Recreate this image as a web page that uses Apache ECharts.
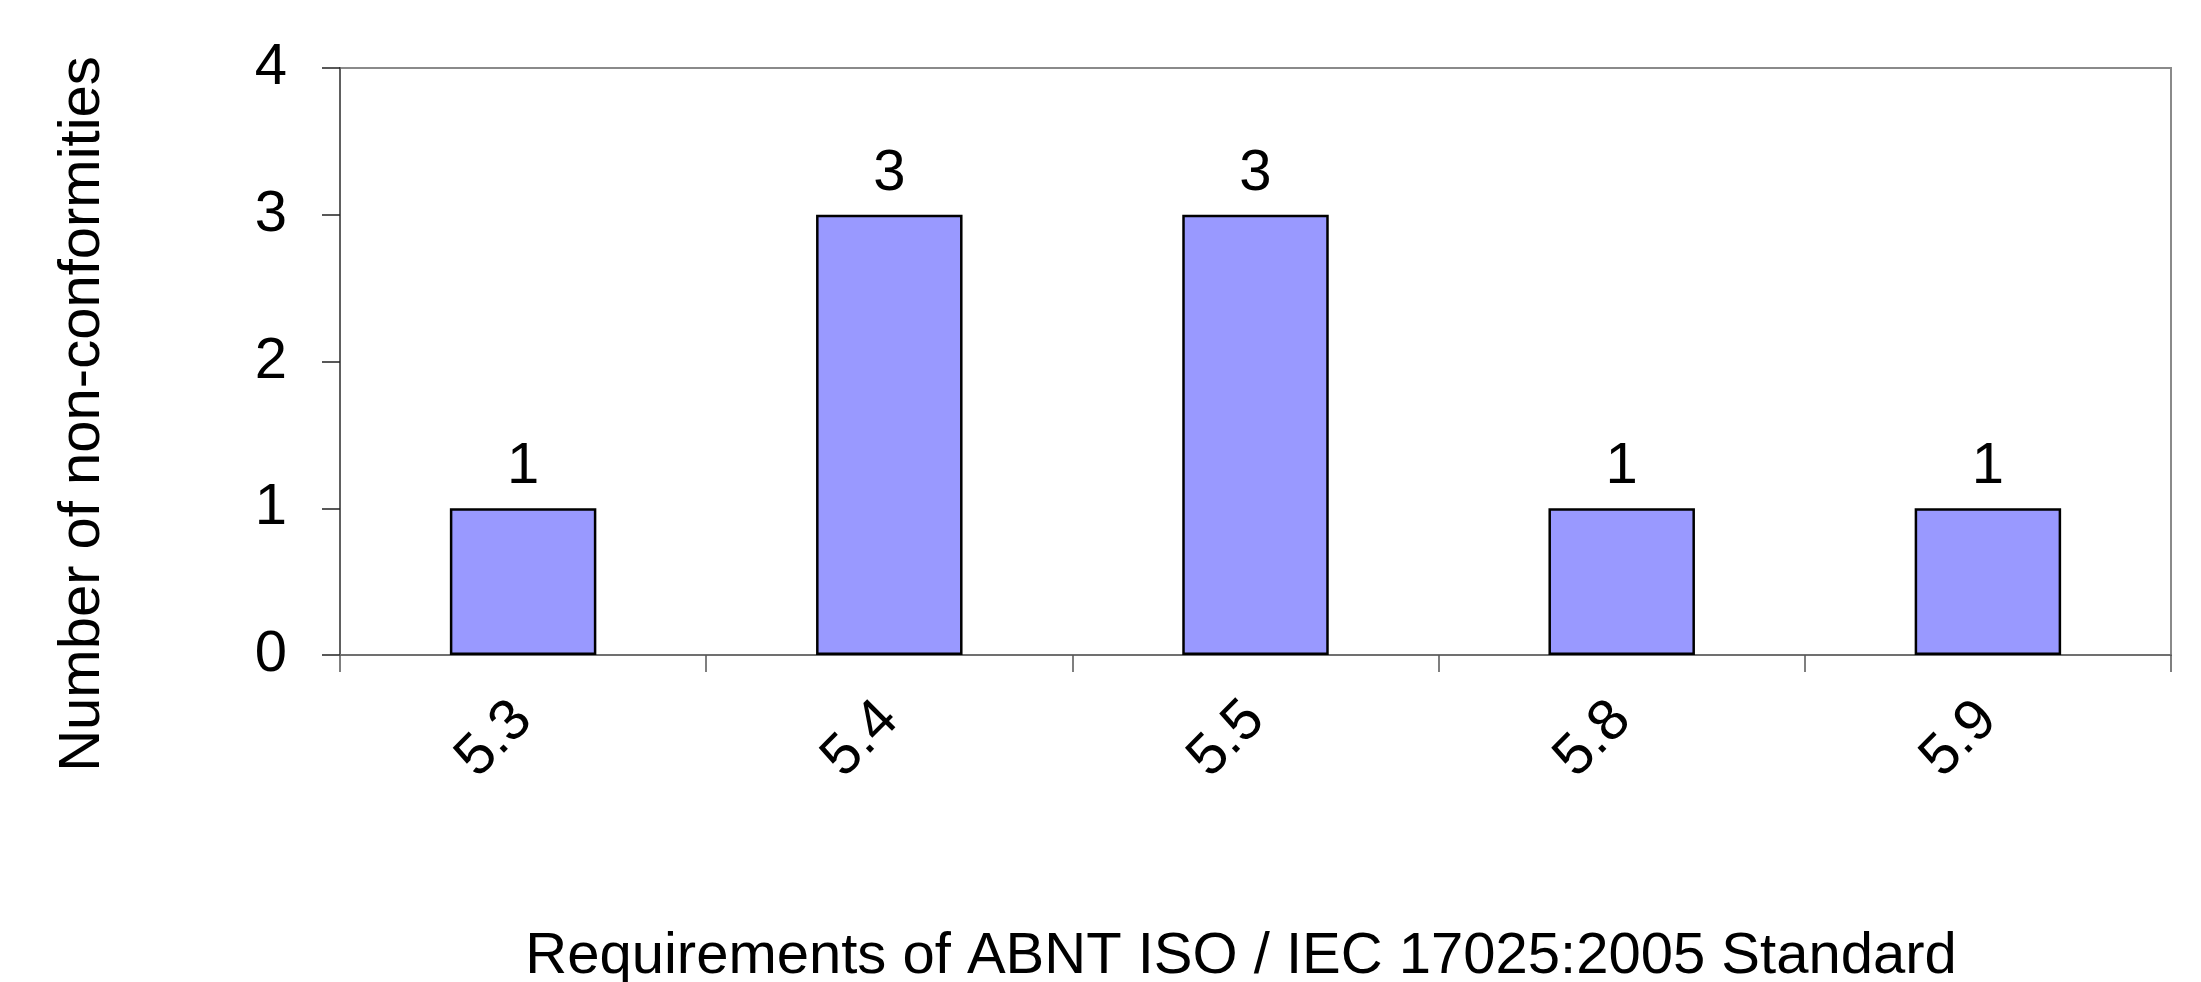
<!DOCTYPE html>
<html>
<head>
<meta charset="utf-8">
<script src="https://cdn.jsdelivr.net/npm/echarts@6/dist/echarts.min.js"></script>
<style>
html,body{margin:0;padding:0;background:#fff;}
#chart{width:2201px;height:982px;}
</style>
</head>
<body>
<div id="chart"></div>
<script>
const categories = ['5.3', '5.4', '5.5', '5.8', '5.9'];
const values = [1, 3, 3, 1, 1];
const yTicks = [0, 1, 2, 3, 4];
const yTitle = 'Number of non-conformities';
const xTitle = 'Requirements of ABNT ISO / IEC 17025:2005 Standard';

const FONT = '"Liberation Sans", Arial, sans-serif';
const chart = echarts.init(document.getElementById('chart'), null, {renderer: 'canvas'});
chart.setOption({
  backgroundColor: '#ffffff',
  animation: false,
  grid: {
    left: 340, right: 30, top: 68, bottom: 327,
    show: true, borderColor: '#8a8a8a', borderWidth: 2, backgroundColor: 'transparent'
  },
  xAxis: {
    type: 'category',
    data: categories,
    axisLine: {lineStyle: {color: '#707070', width: 2}},
    axisTick: {show: true, length: 17, lineStyle: {color: '#555', width: 1.5}},
    axisLabel: {rotate: 45, margin: 56, fontFamily: FONT, fontSize: 58, color: '#000'},
    splitLine: {show: false}
  },
  yAxis: {
    type: 'value',
    min: yTicks[0], max: yTicks[yTicks.length - 1], interval: 1,
    axisLine: {show: true, lineStyle: {color: '#606060', width: 2}},
    axisTick: {show: true, length: 18, lineStyle: {color: '#222', width: 1.5}},
    axisLabel: {margin: 53, fontFamily: FONT, fontSize: 58, color: '#000'},
    splitLine: {show: false}
  },
  series: [{
    type: 'bar',
    data: values,
    barWidth: '40%',
    itemStyle: {color: '#9999ff', borderColor: '#000', borderWidth: 2.5},
    label: {show: true, position: 'top', distance: 12, fontFamily: FONT, fontSize: 58, color: '#000'}
  }],
  graphic: [
    {type: 'text', x: 83, y: 414, rotation: Math.PI / 2,
     style: {text: yTitle, fontFamily: FONT, fontSize: 58, fill: '#000', align: 'center', verticalAlign: 'middle'}},
    {type: 'text', x: 1241, y: 957,
     style: {text: xTitle, fontFamily: FONT, fontSize: 58, fill: '#000', align: 'center', verticalAlign: 'middle'}}
  ]
});
</script>
</body>
</html>
